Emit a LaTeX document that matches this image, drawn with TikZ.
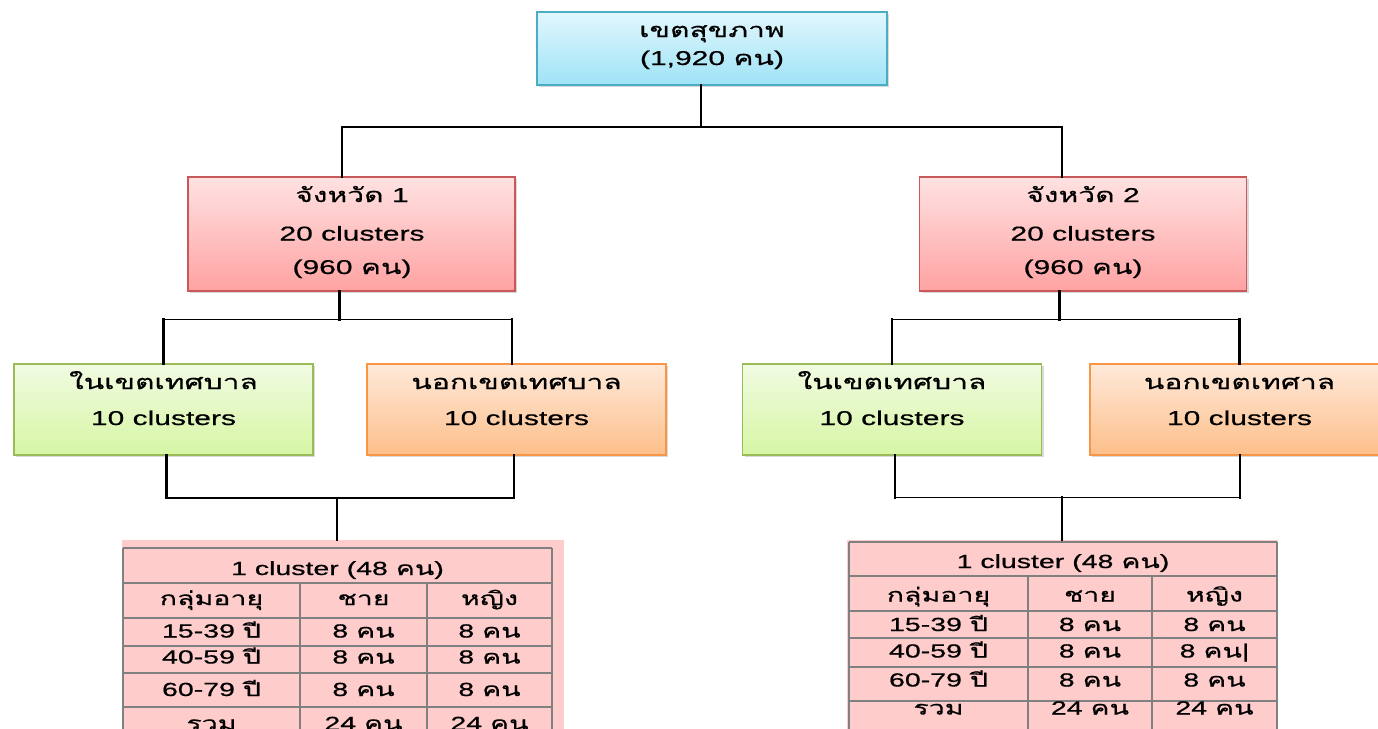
\documentclass[tikz,border=0pt]{standalone}
\usepackage{fontspec}
\setmainfont[FakeStretch=1.5,FakeBold=0.6]{Liberation Sans}
\newfontfamily\thaifont[Script=Thai,FakeStretch=1.5,FakeBold=0.6]{Loma}
\newcommand\thx[1]{{\thaifont #1}}
\usetikzlibrary{shadows}
\definecolor{topb}{HTML}{4BACC6}
\definecolor{topt}{HTML}{E2F7FD}
\definecolor{topbt}{HTML}{9EE3F6}
\definecolor{provb}{HTML}{C9585A}
\definecolor{provt}{HTML}{FFE2E2}
\definecolor{provbt}{HTML}{FFA2A2}
\definecolor{inb}{HTML}{9BBB59}
\definecolor{int}{HTML}{F1FBE2}
\definecolor{inbt}{HTML}{D6F6A4}
\definecolor{outb}{HTML}{F79646}
\definecolor{outt}{HTML}{FEE9DA}
\definecolor{outbt}{HTML}{FDBF8A}
\definecolor{tabpink}{HTML}{FFCCCC}
\definecolor{gridc}{HTML}{808080}
\tikzset{
  basebox/.style={rectangle, inner sep=0pt, line width=1.3pt,
    drop shadow={opacity=0.3, shadow xshift=2pt, shadow yshift=-2pt}},
  topbox/.style={basebox, draw=topb, top color=topt, bottom color=topbt,
    minimum width=350pt, minimum height=73pt},
  provbox/.style={basebox, draw=provb, top color=provt, bottom color=provbt,
    minimum width=327pt, minimum height=114pt},
  inbox/.style={basebox, draw=inb, top color=int, bottom color=inbt,
    minimum width=299pt, minimum height=91pt},
  outbox/.style={basebox, draw=outb, top color=outt, bottom color=outbt,
    minimum width=299pt, minimum height=91pt},
  boxtext/.style={anchor=base, inner sep=0pt, font=\fontsize{20}{24}\selectfont},
  celltext/.style={anchor=base, inner sep=0pt, font=\fontsize{19}{22}\selectfont},
  vline/.style={line width=2.4pt, line cap=rect},
  hline/.style={line width=1.6pt, line cap=rect},
  gridline/.style={draw=gridc, line width=1.6pt},
  tabbg/.style={rectangle, fill=tabpink, inner sep=0pt, anchor=north west}
}
\begin{document}
\begin{tikzpicture}[x=1pt,y=-1pt]
\useasboundingbox (0,0) rectangle (1378,728);
\clip (0,0) rectangle (1378,728);

% boxes
\node[topbox]  (top) at (712,48.5) {};
\node[provbox] (p1)  at (351.5,234) {};
\node[provbox] (p2)  at (1083,234) {};
\node[inbox]   (g1)  at (163.5,409.5) {};
\node[outbox]  (o1)  at (516.5,409.5) {};
\node[inbox]   (g2)  at (892,409.5) {};
\node[outbox]  (o2)  at (1239.5,409.5) {};

% box texts
\node[boxtext] (topT1) at (712,37) {\thx{เขตสุขภาพ}};
\node[boxtext] (topT2) at (712,65) {(1,920 \thx{คน})};
\node[boxtext] (p1T1) at (352,202) {\thx{จังหวัด} 1};
\node[boxtext] (p1T2) at (352,240.5) {20 clusters};
\node[boxtext] (p1T3) at (352,274) {(960 \thx{คน})};
\node[boxtext] (p2T1) at (1083,202) {\thx{จังหวัด} 2};
\node[boxtext] (p2T2) at (1083,240.5) {20 clusters};
\node[boxtext] (p2T3) at (1083,274) {(960 \thx{คน})};
\node[boxtext] (g1T1) at (163.5,389) {\thx{ในเขตเทศบาล}};
\node[boxtext] (g1T2) at (163.5,425) {10 clusters};
\node[boxtext] (o1T1) at (516.5,389) {\thx{นอกเขตเทศบาล}};
\node[boxtext] (o1T2) at (516.5,425) {10 clusters};
\node[boxtext] (g2T1) at (892,389) {\thx{ในเขตเทศบาล}};
\node[boxtext] (g2T2) at (892,425) {10 clusters};
\node[boxtext] (o2T1) at (1239.5,389) {\thx{นอกเขตเทศาล}};
\node[boxtext] (o2T2) at (1239.5,425) {10 clusters};

% tables background
\node[tabbg, minimum width=442pt, minimum height=230pt] (tab1) at (122,540) {};
\node[tabbg, minimum width=431pt, minimum height=230pt] (tab2) at (847,540) {};

% table 1 grid
\draw[gridline] (123,548) -- (552,548);
\foreach \yy in {583,618,646,673,707,741} \draw[gridline] (123,\yy) -- (552,\yy);
\draw[gridline] (123,548) -- (123,770);
\draw[gridline] (552,548) -- (552,770);
\draw[gridline] (300,583) -- (300,770);
\draw[gridline] (427,583) -- (427,770);
% table 2 grid
\draw[gridline] (849,542) -- (1277,542);
\foreach \yy in {576,611,638,667,701,735} \draw[gridline] (849,\yy) -- (1277,\yy);
\draw[gridline] (849,542) -- (849,770);
\draw[gridline] (1277,542) -- (1277,770);
\draw[gridline] (1028,576) -- (1028,770);
\draw[gridline] (1152,576) -- (1152,770);

% table 1 text
\node[celltext] (a00) at (337.5,575) {1 cluster (48 \thx{คน})};
\node[celltext] (a11) at (211.5,605) {\thx{กลุ่มอายุ}};
\node[celltext] (a12) at (363.5,605) {\thx{ชาย}};
\node[celltext] (a13) at (489.5,605) {\thx{หญิง}};
\node[celltext] (a21) at (211.5,637.5) {15-39 \thx{ปี}};
\node[celltext] (a22) at (363.5,637.5) {8 \thx{คน}};
\node[celltext] (a23) at (489.5,637.5) {8 \thx{คน}};
\node[celltext] (a31) at (211.5,663.5) {40-59 \thx{ปี}};
\node[celltext] (a32) at (363.5,663.5) {8 \thx{คน}};
\node[celltext] (a33) at (489.5,663.5) {8 \thx{คน}};
\node[celltext] (a41) at (211.5,696) {60-79 \thx{ปี}};
\node[celltext] (a42) at (363.5,696) {8 \thx{คน}};
\node[celltext] (a43) at (489.5,696) {8 \thx{คน}};
\node[celltext] (a51) at (211.5,730) {\thx{รวม}};
\node[celltext] (a52) at (363.5,730) {24 \thx{คน}};
\node[celltext] (a53) at (489.5,730) {24 \thx{คน}};

% table 2 text
\node[celltext] (b00) at (1063,568) {1 cluster (48 \thx{คน})};
\node[celltext] (b11) at (938.5,601.5) {\thx{กลุ่มอายุ}};
\node[celltext] (b12) at (1090,601.5) {\thx{ชาย}};
\node[celltext] (b13) at (1214.5,601.5) {\thx{หญิง}};
\node[celltext] (b21) at (938.5,631) {15-39 \thx{ปี}};
\node[celltext] (b22) at (1090,631) {8 \thx{คน}};
\node[celltext] (b23) at (1214.5,631) {8 \thx{คน}};
\node[celltext] (b31) at (938.5,657.5) {40-59 \thx{ปี}};
\node[celltext] (b32) at (1090,657.5) {8 \thx{คน}};
\node[celltext] (b33) at (1214.5,657.5) {8 \thx{คน}|};
\node[celltext] (b41) at (938.5,686.5) {60-79 \thx{ปี}};
\node[celltext] (b42) at (1090,686.5) {8 \thx{คน}};
\node[celltext] (b43) at (1214.5,686.5) {8 \thx{คน}};
\node[celltext] (b51) at (938.5,714.5) {\thx{รวม}};
\node[celltext] (b52) at (1090,714.5) {24 \thx{คน}};
\node[celltext] (b53) at (1214.5,714.5) {24 \thx{คน}};

% connectors level 1
\coordinate (c0) at (700.7,127);
\coordinate (bL) at (341.7,127);
\coordinate (bR) at (1061.7,127);
\draw[vline] (top.south -| c0) -- (c0);
\draw[hline] (bL) -- (bR);
\draw[vline] (bL) -- (p1.north -| bL);
\draw[vline] (bR) -- (p2.north -| bR);

% connectors level 2
\coordinate (d1)  at (339.5,319.5);
\coordinate (d1L) at (163.5,319.5);
\coordinate (d1R) at (512,319.5);
\draw[vline] (p1.south -| d1) -- (d1);
\draw[hline] (d1L) -- (d1R);
\draw[vline] (d1L) -- (g1.north -| d1L);
\draw[vline] (d1R) -- (o1.north -| d1R);
\coordinate (d2)  at (1059.5,319.5);
\coordinate (d2L) at (892,319.5);
\coordinate (d2R) at (1239.5,319.5);
\draw[vline] (p2.south -| d2) -- (d2);
\draw[hline] (d2L) -- (d2R);
\draw[vline] (d2L) -- (g2.north -| d2L);
\draw[vline] (d2R) -- (o2.north -| d2R);

% connectors level 3
\coordinate (e1)  at (336.7,498);
\coordinate (e1L) at (166.5,498);
\coordinate (e1R) at (514,498);
\draw[vline] (g1.south -| e1L) -- (e1L);
\draw[vline] (o1.south -| e1R) -- (e1R);
\draw[hline] (e1L) -- (e1R);
\draw[vline] (e1) -- (tab1.north -| e1);
\coordinate (e2)  at (1061.7,497.5);
\coordinate (e2L) at (895,497.5);
\coordinate (e2R) at (1240,497.5);
\draw[vline] (g2.south -| e2L) -- (e2L);
\draw[vline] (o2.south -| e2R) -- (e2R);
\draw[hline] (e2L) -- (e2R);
\draw[vline] (e2) -- (tab2.north -| e2);
\end{tikzpicture}
\end{document}
